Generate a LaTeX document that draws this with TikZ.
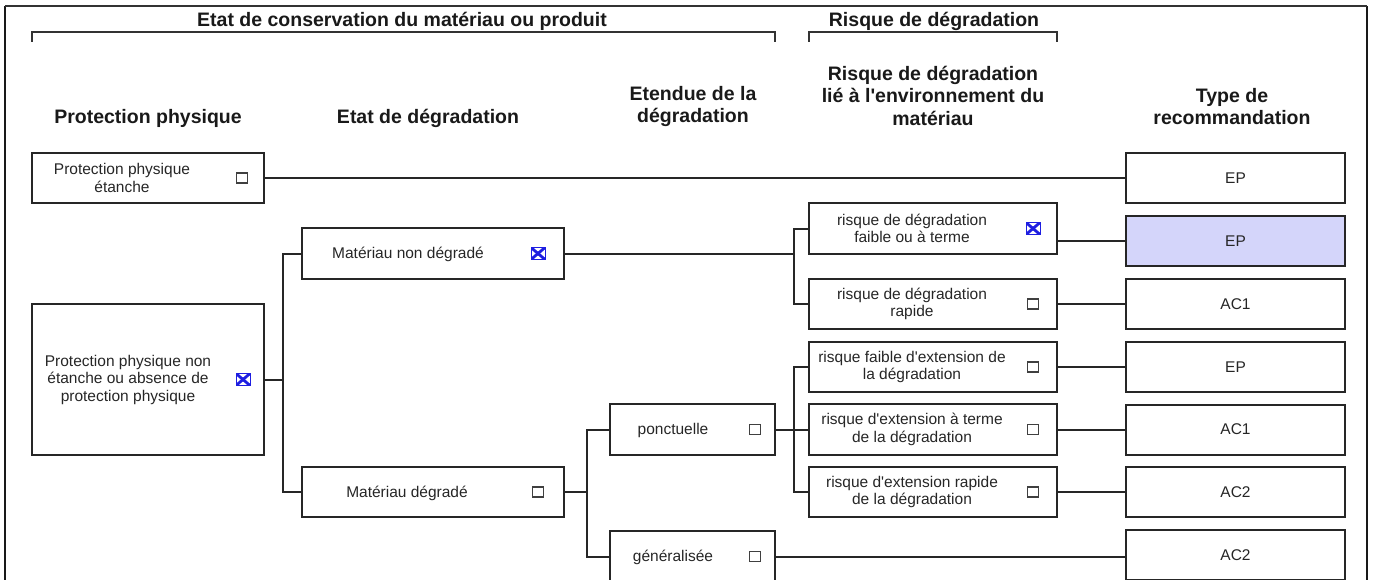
\documentclass[tikz,border=0pt]{standalone}
\usepackage{fontspec}
\setmainfont{Liberation Sans}
\usepackage{xcolor}
\usepackage{tikz}

\definecolor{epshade}{RGB}{212,213,250}
\definecolor{tickblue}{RGB}{30,30,225}

\begin{document}
\begin{tikzpicture}[
  x=1pt, y=-1pt,
  box/.style={draw=black!85, line width=2pt, inner sep=0pt},
  txt/.style={align=center, inner sep=0pt, text=black!85,
              font=\fontsize{15.5}{17.5}\selectfont},
  hdr/.style={align=center, inner sep=0pt, text=black!90,
              font=\fontsize{19.5}{22.5}\selectfont\bfseries},
  chk/.style={draw=black!75, line width=1.3pt, minimum width=11pt,
              minimum height=10pt, inner sep=0pt},
  chkx/.style={draw=tickblue, line width=0.8pt, minimum width=14pt,
               minimum height=12pt, inner sep=0pt,
               path picture={\draw[tickblue, line width=2.8pt]
                 (path picture bounding box.north west) -- (path picture bounding box.south east)
                 (path picture bounding box.north east) -- (path picture bounding box.south west);}},
  conn/.style={draw=black!85, line width=2pt},
  brk/.style={draw=black!80, line width=1.6pt}
]
  \useasboundingbox (0,0) rectangle (1375,580);

  % frame
  \draw[line width=2pt, black!90] (5,600) -- (5,6);
  \draw[line width=2pt, black!90] (1367,6) -- (1367,600);
  \draw[line width=1.4pt, black!80] (5,6) -- (1367,6);

  % titles and brackets
  \node[hdr] (ttlcons) at (402,21) {Etat de conservation du matériau ou produit};
  \node[hdr] (ttlrisk) at (934,21) {Risque de dégradation};
  \draw[brk] (32,42) -- (32,32) -- (775,32) -- (775,42);
  \draw[brk] (809,42) -- (809,32) -- (1057,32) -- (1057,42);

  % column headers
  \node[hdr] (hprot) at (148,118)   {Protection physique};
  \node[hdr] (hetat) at (428,118)   {Etat de dégradation};
  \node[hdr] (hext)  at (693,106.5) {Etendue de la\\dégradation};
  \node[hdr] (henv)  at (933,95.5)  {Risque de dégradation\\lié à l\textquotesingle environnement du\\matériau};
  \node[hdr] (htype) at (1232,106.5) {Type de\\recommandation};

  % protection physique
  \node[box, minimum width=232pt, minimum height=50pt]  (ppe) at (148,178) {};
  \node[txt] (ppet) at (122,178) {Protection physique\\étanche};
  \node[chk] (ppec) at (242,178) {};
  \node[box, minimum width=232pt, minimum height=151pt] (ppn) at (148,379.5) {};
  \node[txt] (ppnt) at (128,379.5) {Protection physique non\\étanche ou absence de\\protection physique};
  \node[chkx] (ppnc) at (243,379.5) {};

  % etat de degradation
  \node[box, minimum width=262pt, minimum height=51pt] (mnd) at (433,253.5) {};
  \node[txt] (mndt) at (408,254.5) {Matériau non dégradé};
  \node[chkx] (mndc) at (538,253.5) {};
  \node[box, minimum width=262pt, minimum height=50pt] (md) at (433,492) {};
  \node[txt] (mdt) at (407,493) {Matériau dégradé};
  \node[chk] (mdc) at (538,492) {};

  % etendue
  \node[box, minimum width=165pt, minimum height=51pt] (ponc) at (692.5,429.5) {};
  \node[txt] (ponct) at (673,430.5) {ponctuelle};
  \node[chk] (poncc) at (755,429.5) {};
  \node[box, minimum width=165pt, minimum height=51pt] (gen) at (692.5,556.5) {};
  \node[txt] (gent) at (673,557.5) {généralisée};
  \node[chk] (genc) at (755,556.5) {};

  % risque lie a l'environnement
  \node[box, minimum width=248pt, minimum height=51pt] (r1) at (933,228.5) {};
  \node[txt] (r1t) at (912,228.5) {risque de dégradation\\faible ou à terme};
  \node[chkx] (r1c) at (1033,228.5) {};
  \node[box, minimum width=248pt, minimum height=50pt] (r2) at (933,304) {};
  \node[txt] (r2t) at (912,304) {risque de dégradation\\rapide};
  \node[chk] (r2c) at (1033,304) {};
  \node[box, minimum width=248pt, minimum height=50pt] (r3) at (933,367) {};
  \node[txt] (r3t) at (912,367) {risque faible d\textquotesingle extension de\\la dégradation};
  \node[chk] (r3c) at (1033,367) {};
  \node[box, minimum width=248pt, minimum height=51pt] (r4) at (933,429.5) {};
  \node[txt] (r4t) at (912,429.5) {risque d\textquotesingle extension à terme\\de la dégradation};
  \node[chk] (r4c) at (1033,429.5) {};
  \node[box, minimum width=248pt, minimum height=50pt] (r5) at (933,492) {};
  \node[txt] (r5t) at (912,492) {risque d\textquotesingle extension rapide\\de la dégradation};
  \node[chk] (r5c) at (1033,492) {};

  % type de recommandation
  \foreach \yy/\lbl/\nm/\col in {178/EP/t1/white, 241/EP/t2/epshade, 304/AC1/t3/white,
      367/EP/t4/white, 429.5/AC1/t5/white, 492/AC2/t6/white, 555/AC2/t7/white}
    \node[box, txt, draw=black!85, fill=\col, minimum width=219pt, minimum height=50pt]
      (\nm) at (1235.5,\yy) {\lbl};

  % connectors
  \draw[conn] (ppe.east) -- (t1.west);
  \coordinate (b1) at (283,379.5);
  \draw[conn] (ppn.east) -- (b1);
  \draw[conn] (mnd.west) -| (b1) |- (md.west);
  \coordinate (b2) at (794,253.5);
  \draw[conn] (mnd.east) -- (b2);
  \draw[conn] (r1.west) -| (b2) |- (r2.west);
  \coordinate (b3) at (587,492);
  \draw[conn] (md.east) -- (b3);
  \draw[conn] (ponc.west) -| (b3) |- (gen.west);
  \coordinate (b4) at (794,429.5);
  \draw[conn] (ponc.east) -- (r4.west);
  \draw[conn] (r3.west) -| (b4) |- (r5.west);
  \draw[conn] (t2.west -| r1.east) -- (t2.west);
  \draw[conn] (r2.east) -- (t3.west);
  \draw[conn] (r3.east) -- (t4.west);
  \draw[conn] (r4.east) -- (t5.west);
  \draw[conn] (r5.east) -- (t6.west);
  \draw[conn] (gen.east) -- (gen.east -| t7.west);
\end{tikzpicture}
\end{document}
